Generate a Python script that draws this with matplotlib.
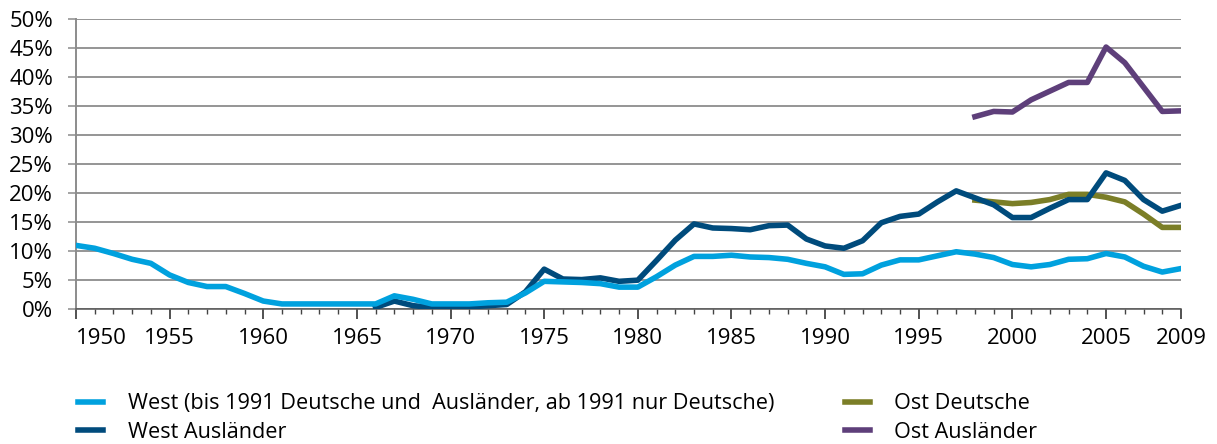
import numpy as np
import matplotlib
matplotlib.use("Agg")
import matplotlib.pyplot as plt
import matplotlib.ticker as ticker

plt.rcParams['font.family'] = ['Open Sans', 'DejaVu Sans']

# shares in percent
years_west = list(range(1950, 2010))
west = [10.9, 10.4, 9.5, 8.5, 7.8, 5.8, 4.5, 3.8, 3.8, 2.6,
        1.3, 0.8, 0.8, 0.8, 0.8, 0.8, 0.8, 2.2, 1.6, 0.8,
        0.8, 0.8, 1.0, 1.1, 2.7, 4.7, 4.6, 4.5, 4.3, 3.7,
        3.7, 5.5, 7.5, 9.0, 9.0, 9.2, 8.9, 8.8, 8.5, 7.8,
        7.2, 5.9, 6.0, 7.5, 8.4, 8.4, 9.1, 9.8, 9.4, 8.8,
        7.6, 7.2, 7.6, 8.5, 8.6, 9.5, 8.9, 7.3, 6.3, 6.9]

years_west_ausl = list(range(1966, 2010))
west_ausl = [0.2, 1.3, 0.5, 0.2,
             0.2, 0.3, 0.5, 0.7, 2.9, 6.8, 5.1, 5.0, 5.3, 4.7,
             4.9, 8.3, 11.8, 14.6, 13.9, 13.8, 13.6, 14.3, 14.4, 12.0,
             10.8, 10.4, 11.7, 14.8, 15.9, 16.3, 18.4, 20.3, 19.1, 17.9,
             15.7, 15.7, 17.3, 18.8, 18.8, 23.4, 22.1, 18.8, 16.8, 17.8]

years_ost = list(range(1998, 2010))
ost_deutsche = [18.7, 18.4, 18.1, 18.3, 18.8, 19.7, 19.7, 19.2, 18.4, 16.3, 14.0, 14.0]
ost_ausl = [33.1, 34.0, 33.9, 36.0, 37.5, 39.0, 39.0, 45.1, 42.4, 38.2, 34.0, 34.1]

labels = ['West (bis 1991 Deutsche und  Ausländer, ab 1991 nur Deutsche)',
          'West Ausländer', 'Ost Deutsche', 'Ost Ausländer']
colors = ['#00a1de', '#004b7c', '#7b7e27', '#5e3f7a']

x_labels = [1950, 1955, 1960, 1965, 1970, 1975, 1980, 1985, 1990, 1995, 2000, 2005, 2009]

fig = plt.figure(figsize=(12.17, 4.44), dpi=100)
ax = fig.add_axes([0.0624, 0.305, 0.908, 0.653])

lw = 4.0
l_od, = ax.plot(years_ost, ost_deutsche, color=colors[2], lw=lw, zorder=3)
l_wa, = ax.plot(years_west_ausl, west_ausl, color=colors[1], lw=lw, zorder=4)
l_w, = ax.plot(years_west, west, color=colors[0], lw=lw, zorder=5)
l_oa, = ax.plot(years_ost, ost_ausl, color=colors[3], lw=lw, zorder=4)

ax.set_xlim(1950, 2009)
ax.set_ylim(0, 50)

ax.yaxis.set_major_locator(ticker.MultipleLocator(5))
ax.yaxis.set_major_formatter(ticker.FuncFormatter(lambda v, p: f'{v:.0f}%'))
ax.grid(axis='y', color='#8c8c8c', lw=1.3)
ax.set_axisbelow(True)

ax.xaxis.set_major_locator(ticker.FixedLocator(x_labels))
ax.xaxis.set_minor_locator(ticker.MultipleLocator(1))
ax.xaxis.set_major_formatter(ticker.FormatStrFormatter('%d'))

for side in ['top', 'right']:
    ax.spines[side].set_visible(False)
ax.spines['left'].set_color('#8c8c8c')
ax.spines['left'].set_linewidth(1.4)
ax.spines['bottom'].set_color('#555555')
ax.spines['bottom'].set_linewidth(1.1)

ax.tick_params(axis='y', length=6, width=1.1, color='#8c8c8c', pad=10.5, labelsize=16)
ax.tick_params(axis='x', which='major', length=7, width=1.1, color='#222222', pad=7, labelsize=16)
ax.tick_params(axis='x', which='minor', length=3.6, width=1.0, color='#444444')

# first year label sits to the right of its tick
ax.get_xticklabels()[0].set_horizontalalignment('left')

fig.legend([l_w, l_wa, l_od, l_oa], labels, ncol=2, loc='upper left',
           bbox_to_anchor=(0.0551, 0.139), frameon=False, fontsize=15.6,
           handlelength=1.17, handletextpad=1.12, columnspacing=3.27,
           labelspacing=0.36, borderpad=0)

fig.savefig('out.png', dpi=100)
